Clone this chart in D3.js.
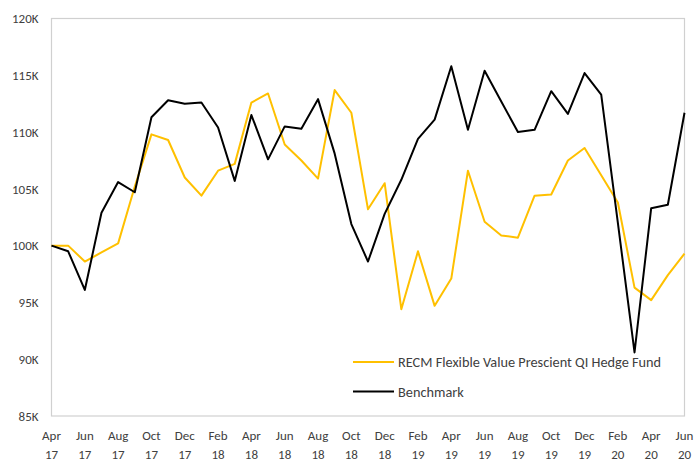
<!DOCTYPE html>
<html><head><meta charset="utf-8">
<script src="https://cdn.jsdelivr.net/npm/d3@7"></script>
<style>body{margin:0;background:#fff}svg{display:block}text{font-family:Calibri,Carlito,Lato,"Open Sans",sans-serif;fill:#404040}</style>
</head><body><svg id="c" width="694" height="462"></svg>
<script>
const months = ["Apr 17","May 17","Jun 17","Jul 17","Aug 17","Sep 17","Oct 17","Nov 17","Dec 17","Jan 18","Feb 18","Mar 18",
"Apr 18","May 18","Jun 18","Jul 18","Aug 18","Sep 18","Oct 18","Nov 18","Dec 18","Jan 19","Feb 19","Mar 19",
"Apr 19","May 19","Jun 19","Jul 19","Aug 19","Sep 19","Oct 19","Nov 19","Dec 19","Jan 20","Feb 20","Mar 20",
"Apr 20","May 20","Jun 20"];
const fund = [100.0,100.0,98.6,99.4,100.2,105.2,109.8,109.3,106.0,104.4,106.6,107.2,
112.6,113.4,108.9,107.5,105.9,113.7,111.7,103.2,105.5,94.4,99.5,94.7,
97.1,106.6,102.1,100.9,100.7,104.4,104.5,107.5,108.6,106.2,103.8,96.3,
95.2,97.4,99.3];
const bench = [100.0,99.5,96.1,102.9,105.6,104.7,111.3,112.8,112.5,112.6,110.4,105.7,
111.5,107.6,110.5,110.3,112.9,108.1,101.9,98.6,102.8,105.8,109.4,111.1,
115.8,110.2,115.4,112.7,110.0,110.2,113.6,111.6,115.2,113.3,102.0,90.6,
103.3,103.6,111.7];
const yTicks = [85,90,95,100,105,110,115,120];
const seriesNames = ["RECM Flexible Value Prescient QI Hedge Fund","Benchmark"];
const seriesColors = ["#FFC000","#000000"];

const svg = d3.select("#c");
const L=51.5, R=684.5, T=18.5, B=416;
const x = d3.scalePoint().domain(months).range([L,R]);
const y = d3.scaleLinear().domain([85,120]).range([B,T]);

svg.append("rect").attr("x",L).attr("y",T).attr("width",R-L).attr("height",B-T)
  .attr("fill","none").attr("stroke","#d0d0d0").attr("stroke-width",1.2);

const yAxis = svg.append("g").attr("transform",`translate(${L},0)`)
  .call(d3.axisLeft(y).tickValues(yTicks).tickSize(0).tickPadding(13).tickFormat(d=>d+"K"));
yAxis.select(".domain").remove();
yAxis.selectAll("text").style("font-size","13px").attr("fill","#404040");

const xlab = months.filter((m,i)=>i%2===0);
const xg = svg.append("g");
xlab.forEach(m=>{
  const [mo,yr]=m.split(" ");
  const t = xg.append("text").attr("text-anchor","middle").attr("x",x(m)).style("font-size","13px");
  t.append("tspan").attr("x",x(m)).attr("y",440).text(mo);
  t.append("tspan").attr("x",x(m)).attr("y",459).text(yr);
});

const line = d3.line().x((d,i)=>x(months[i])).y(d=>y(d));
svg.append("path").datum(fund).attr("d",line).attr("fill","none").attr("stroke",seriesColors[0]).attr("stroke-width",2).attr("stroke-linejoin","round");
svg.append("path").datum(bench).attr("d",line).attr("fill","none").attr("stroke",seriesColors[1]).attr("stroke-width",2).attr("stroke-linejoin","round");

const lg = svg.append("g");
seriesNames.forEach((n,i)=>{
  const yy = 362 + i*29.5;
  lg.append("rect").attr("x",353).attr("y",yy-1).attr("width",41).attr("height",2).attr("fill",seriesColors[i]);
  lg.append("text").attr("x",398).attr("y",yy+5).style("font-size","14.3px").text(n);
});
</script></body></html>
